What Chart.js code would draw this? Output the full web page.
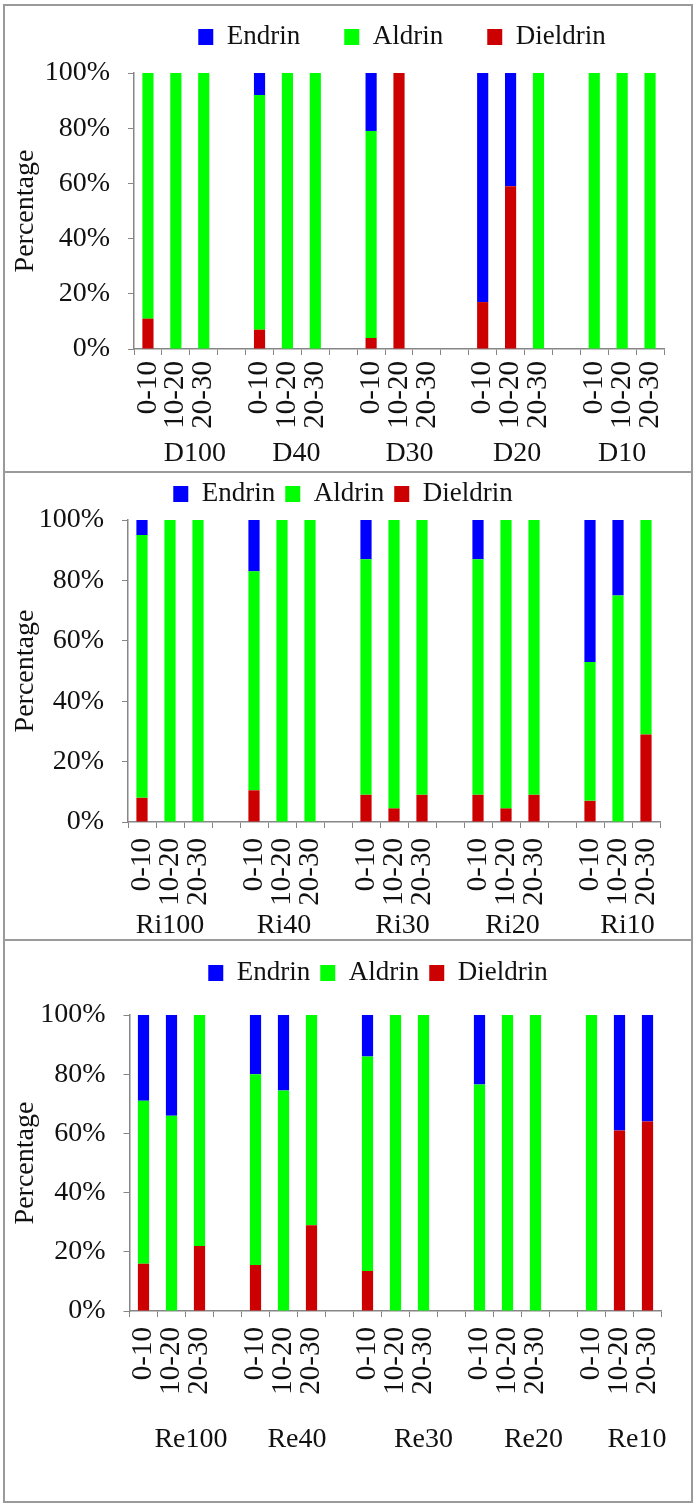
<!DOCTYPE html>
<html>
<head>
<meta charset="utf-8">
<script src="https://cdn.jsdelivr.net/npm/chart.js@4.4.1/dist/chart.umd.min.js"></script>
<style>
  body { margin: 0; background: #fff; }
  #page { position: relative; width: 700px; height: 1507px; overflow: hidden; }
  .frame { position: absolute; left: 3px; top: 4px; width: 686px; height: 1495px; border: 2px solid #9a9a9a; }
  .rule { position: absolute; left: 3px; width: 690px; height: 2px; background: #9a9a9a; }
  canvas { position: absolute; left: 0; }
</style>
</head>
<body>
<div id="page">
  <div class="frame"></div>
  <div class="rule" style="top:471px"></div>
  <div class="rule" style="top:939px"></div>
  <canvas id="chartD" width="700" height="471" style="top:0px"></canvas>
  <canvas id="chartRi" width="700" height="466" style="top:473px"></canvas>
  <canvas id="chartRe" width="700" height="560" style="top:941px"></canvas>
</div>
<script>
// depth classes (cm) shown under each bar
const depths = ['0-10', '10-20', '20-30'];

// panel 1 : D sites
const dSites = ['D100', 'D40', 'D30', 'D20', 'D10'];
const dDieldrin = [11, 0, 0, 7, 0, 0, 4, 100, 0, 17, 59, 0, 0, 0, 0];
const dAldrin = [89, 100, 100, 85, 100, 100, 75, 0, 0, 0, 0, 100, 100, 100, 100];
const dEndrin = [0, 0, 0, 8, 0, 0, 21, 0, 0, 83, 41, 0, 0, 0, 0];

// panel 2 : Ri sites
const riSites = ['Ri100', 'Ri40', 'Ri30', 'Ri20', 'Ri10'];
const riDieldrin = [8, 0, 0, 10.5, 0, 0, 9, 4.5, 9, 9, 4.5, 9, 7, 0, 29];
const riAldrin = [87, 100, 100, 72.5, 100, 100, 78, 95.5, 91, 78, 95.5, 91, 46, 75, 71];
const riEndrin = [5, 0, 0, 17, 0, 0, 13, 0, 0, 13, 0, 0, 47, 25, 0];

// panel 3 : Re sites
const reSites = ['Re100', 'Re40', 'Re30', 'Re20', 'Re10'];
const reDieldrin = [16, 0, 22, 15.5, 0, 29, 13.5, 0, 0, 0, 0, 0, 0, 61, 64];
const reAldrin = [55, 66, 78, 64.5, 74.5, 71, 72.5, 100, 100, 76.5, 100, 100, 100, 0, 0];
const reEndrin = [29, 34, 0, 20, 25.5, 0, 14, 0, 0, 23.5, 0, 0, 0, 39, 36];

const yTicks = [0, 20, 40, 60, 80, 100];

const serif = "'Liberation Serif', 'Times New Roman', serif";
const ink = '#111111';
const axisGrey = '#868686';

// one empty slot between site groups, like the original
function withGaps(values, blank) {
  const out = [];
  values.forEach((v, i) => {
    out.push(v);
    if (i % 3 === 2 && i < values.length - 1) out.push(blank);
  });
  return out;
}

function depthLabels(n) {
  const out = [];
  for (let g = 0; g < n; g++) out.push(...depths);
  return withGaps(out, '');
}

// site names under each group of three bars
function groupLabels(sites, look) {
  return {
    id: 'groupLabels',
    afterDraw(chart) {
      const { ctx, scales: { x }, chartArea } = chart;
      ctx.save();
      ctx.font = '28px ' + serif;
      ctx.fillStyle = ink;
      ctx.textAlign = 'center';
      ctx.textBaseline = 'middle';
      sites.forEach((name, g) => {
        const mid = x.getPixelForValue(g * 4 + 1);
        ctx.fillText(name, mid + look.nudge[g], chartArea.bottom + look.groupOffset);
      });
      ctx.restore();
    }
  };
}

// fixes the room taken by the legend and slides it sideways
function legendBox(h, dx) {
  return {
    id: 'legendBox',
    beforeInit(chart) {
      const fit = chart.legend.fit;
      chart.legend.fit = function () {
        fit.call(this);
        this.height = h;
      };
    },
    afterLayout(chart) {
      chart.legend.left += dx;
      chart.legend.right += dx;
    }
  };
}

function drawPanel(id, sites, dieldrin, aldrin, endrin, look) {
  const canvas = document.getElementById(id);
  const W = canvas.width;
  const H = canvas.height;
  const padLeft = 4;
  const padRight = W - look.right;
  const yWidth = look.left - padLeft;
  const padTop = look.legendY - look.legendGap - 13.5;
  const titlePad = look.titleX - padLeft - 16.8;
  const shift = look.legendX - (padLeft + look.right) / 2;

  new Chart(canvas, {
    type: 'bar',
    data: {
      labels: depthLabels(sites.length),
      datasets: [
        { label: 'Dieldrin', data: withGaps(dieldrin, null), backgroundColor: '#cc0000' },
        { label: 'Aldrin', data: withGaps(aldrin, null), backgroundColor: '#00ff00' },
        { label: 'Endrin', data: withGaps(endrin, null), backgroundColor: '#0000ff' },
      ],
    },
    options: {
      responsive: false,
      animation: false,
      datasets: { bar: { barPercentage: 0.4, categoryPercentage: 1, borderWidth: 0 } },
      layout: { padding: { left: padLeft, right: padRight, top: padTop, bottom: 0 } },
      plugins: {
        legend: {
          reverse: true,
          labels: { font: { family: serif, size: 27 }, color: ink, boxWidth: 15, boxHeight: 16, padding: look.legendGap },
        },
        tooltip: { enabled: false },
      },
      scales: {
        x: {
          stacked: true,
          grid: { drawOnChartArea: false, offset: true, tickLength: 6, color: axisGrey },
          border: { color: axisGrey, width: 1.5 },
          ticks: { autoSkip: false, minRotation: 90, maxRotation: 90, padding: look.labelPad, color: ink, font: { family: serif, size: 29 } },
          afterFit: (s) => { s.height = H - look.bottom; },
        },
        y: {
          stacked: true,
          min: 0,
          max: 100,
          afterBuildTicks: (s) => { s.ticks = yTicks.map((v) => ({ value: v })); },
          ticks: { callback: (v) => v + '%', padding: 18, color: ink, font: { family: serif, size: 28 } },
          grid: { drawOnChartArea: false, tickLength: 6, color: axisGrey },
          border: { color: axisGrey, width: 1.5 },
          title: { display: true, text: 'Percentage', color: ink, font: { family: serif, size: 28 }, padding: { top: titlePad, bottom: 0 } },
          afterFit: (s) => { s.width = yWidth; },
        },
      },
    },
    plugins: [legendBox(look.top - padTop, shift), groupLabels(sites, look)],
  });
}

drawPanel('chartD', dSites, dDieldrin, dAldrin, dEndrin, {
  left: 134, right: 664, top: 73, bottom: 349,
  legendX: 402, legendY: 37, legendGap: 44, titleX: 26, labelPad: 6,
  groupOffset: 105, nudge: [19, 9, 10.5, 6.5, 0],
});

drawPanel('chartRi', riSites, riDieldrin, riAldrin, riEndrin, {
  left: 128, right: 660, top: 47, bottom: 349,
  legendX: 343, legendY: 21, legendGap: 10, titleX: 26, labelPad: 10,
  groupOffset: 104, nudge: [0, 2, 8.5, 6.5, 9.5],
});

drawPanel('chartRe', reSites, reDieldrin, reAldrin, reEndrin, {
  left: 129.5, right: 661.5, top: 74, bottom: 370,
  legendX: 378, legendY: 32, legendGap: 10, titleX: 26, labelPad: 10,
  groupOffset: 129, nudge: [19.5, 13.5, 28, 26, 17.5],
});
</script>
</body>
</html>
